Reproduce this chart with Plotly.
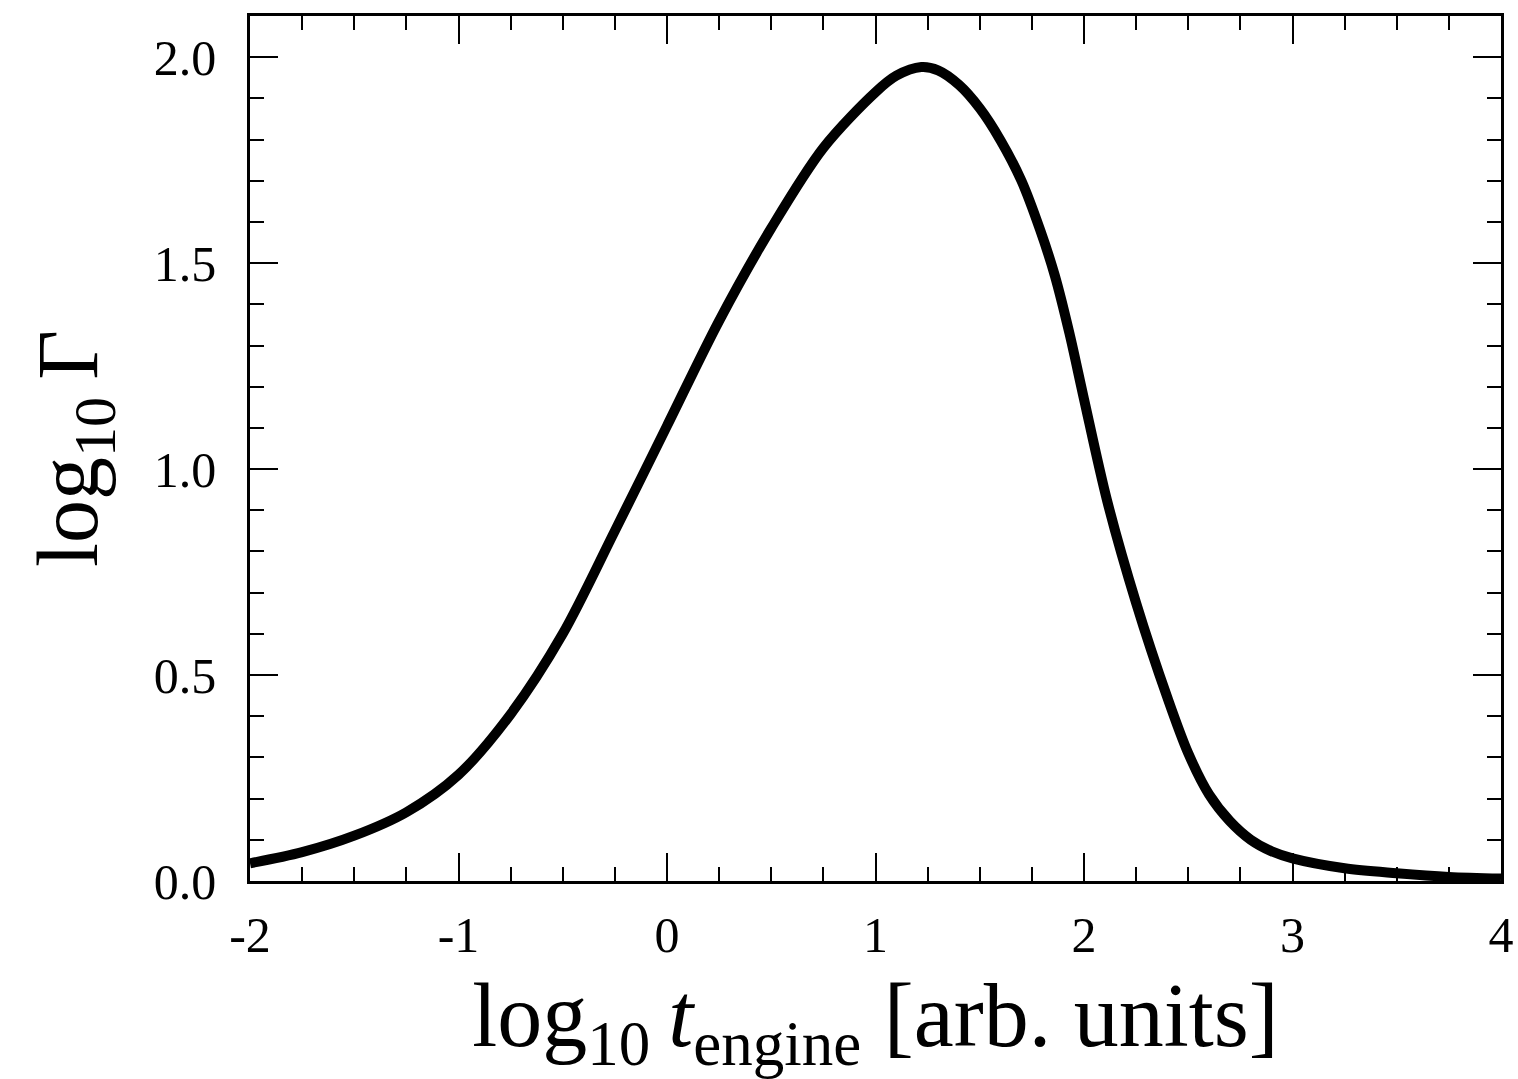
import plotly.graph_objects as go

# Data
log_t_engine = [-2.0, -1.75, -1.5, -1.25, -1.0, -0.75, -0.5, -0.25, 0.0, 0.25, 0.5, 0.75, 1.0,
                1.1, 1.22, 1.3, 1.4, 1.5, 1.6, 1.7, 1.79, 1.86, 1.93, 2.0, 2.11, 2.25, 2.4, 2.5,
                2.6, 2.7, 2.8, 2.9, 3.0, 3.25, 3.5, 3.75, 4.0]
log_gamma = [0.043, 0.07, 0.11, 0.167, 0.258, 0.405, 0.60, 0.85, 1.105, 1.36, 1.585, 1.78, 1.915,
             1.955, 1.976, 1.968, 1.933, 1.876, 1.798, 1.70, 1.58, 1.47, 1.33, 1.17, 0.925, 0.675,
             0.445, 0.31, 0.21, 0.145, 0.10, 0.072, 0.055, 0.031, 0.019, 0.010, 0.006]

x_tickvals = [-2, -1, 0, 1, 2, 3, 4]
x_ticktext = ["-2", "-1", "0", "1", "2", "3", "4"]
y_tickvals = [0.0, 0.5, 1.0, 1.5, 2.0]
y_ticktext = ["0.0", "0.5", "1.0", "1.5", "2.0"]

FONT = "Liberation Serif"

fig = go.Figure(
    go.Scatter(
        x=log_t_engine, y=log_gamma, mode="lines",
        line=dict(color="black", width=10, shape="spline", smoothing=0.9),
        hoverinfo="skip",
    )
)

axis_common = dict(
    showgrid=False, zeroline=False, automargin=False,
    showline=True, linecolor="black", linewidth=2.5,
    mirror="ticks", ticks="inside", ticklen=28, tickwidth=2, tickcolor="black",
    tickfont=dict(family=FONT, size=50, color="black"),
)

fig.update_xaxes(
    range=[-2, 4], tickvals=x_tickvals, ticktext=x_ticktext,
    minor=dict(dtick=0.25, tick0=0, ticks="inside", ticklen=14, tickwidth=2,
               tickcolor="black", showgrid=False),
    ticklabelstandoff=8,
    title=dict(text="log<sub>10</sub>\u2009<i>t</i><sub>engine</sub> [arb. units]",
               font=dict(family=FONT, size=90, color="black"), standoff=30),
    **axis_common,
)
fig.update_yaxes(
    range=[0, 2.1], tickvals=y_tickvals, ticktext=y_ticktext,
    minor=dict(dtick=0.1, tick0=0, ticks="inside", ticklen=14, tickwidth=2,
               tickcolor="black", showgrid=False),
    ticklabelstandoff=21,
    title=dict(text="log<sub>10</sub>\u2009Γ",
               font=dict(family=FONT, size=86, color="black"), standoff=28),
    **axis_common,
)

fig.update_layout(
    width=1518, height=1079,
    margin=dict(l=250, r=17, t=16, b=198, pad=0),
    paper_bgcolor="white", plot_bgcolor="white",
    showlegend=False,
    font=dict(family=FONT, color="black"),
)

fig.write_html(
    "out.html",
    config={"displayModeBar": False},
    post_script="document.body.style.margin='0px';document.body.style.overflow='hidden';",
)
